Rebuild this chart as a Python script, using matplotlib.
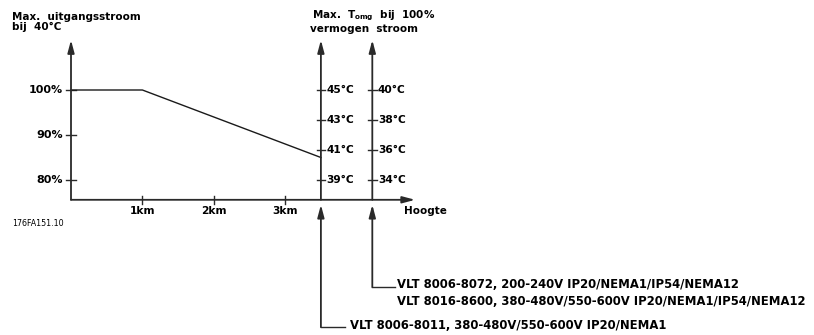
import matplotlib.pyplot as plt

# derating of output current against altitude
altitude_km = [0, 1, 3.5]
current_pct = [100, 100, 85]

km_ticks = [1, 2, 3]
km_labels = ['1km', '2km', '3km']
pct_ticks = [80, 90, 100]
pct_labels = ['80%', '90%', '100%']

# max. ambient temperature scales (positions on the altitude axis)
temp_axis_km = [3.5, 4.22]
temp_small = [39, 41, 43, 45]   # VLT 8006-8011
temp_large = [34, 36, 38, 40]   # other units

note_small = 'VLT 8006-8011, 380-480V/550-600V IP20/NEMA1'
note_large = ('VLT 8006-8072, 200-240V IP20/NEMA1/IP54/NEMA12\n'
              'VLT 8016-8600, 380-480V/550-600V IP20/NEMA1/IP54/NEMA12')

X_END = 4.82
Y_BASE = 75.6
Y_TOP = 111.1
AX_COL = '#2a2a2a'

plt.rcParams['font.family'] = 'DejaVu Sans'

fig = plt.figure(figsize=(8.14, 3.35), dpi=100)
ax = fig.add_axes([0, 0, 1, 1])
ax.set_xlim(-71 / 71.4, (814 - 71) / 71.4)
ax.set_ylim(100 - 245 / 4.5, 120)
ax.axis('off')

arrow = dict(arrowstyle='-|>,head_length=0.75,head_width=0.2', color=AX_COL,
             lw=1.3, shrinkA=0, shrinkB=0, mutation_scale=10)


def up_arrow(x, y0, y1):
    ax.annotate('', xy=(x, y1), xytext=(x, y0), arrowprops=arrow)


def pct_of_temp(t, tmax):
    return 100 - (tmax - t) * 10 / 3


# main axes
up_arrow(0, Y_BASE, Y_TOP)
ax.annotate('', xy=(X_END, Y_BASE), xytext=(0, Y_BASE), arrowprops=arrow)

for v, lab in zip(pct_ticks, pct_labels):
    ax.plot([-0.07, 0.07], [v, v], color=AX_COL, lw=1)
    ax.text(-0.11, v, lab, ha='right', va='center', fontsize=8,
            fontweight='bold')

for v, lab in zip(km_ticks, km_labels):
    ax.plot([v, v], [Y_BASE - 0.9, Y_BASE + 0.9], color=AX_COL, lw=1)
    ax.text(v, Y_BASE - 2.5, lab, ha='center', va='center', fontsize=7.7,
            fontweight='bold')

ax.text(4.66, Y_BASE - 2.5, 'Hoogte', ha='left', va='center', fontsize=7.5,
        fontweight='bold')

# derating curve
ax.plot(altitude_km, current_pct, color='#1a1a1a', lw=1)

# temperature scales
for xk, temps in zip(temp_axis_km, [temp_small, temp_large]):
    up_arrow(xk, Y_BASE, Y_TOP)
    tmax = max(temps)
    for t in temps:
        v = pct_of_temp(t, tmax)
        ax.plot([xk - 0.06, xk + 0.06], [v, v], color=AX_COL, lw=1)
        ax.text(xk + 0.08, v, f'{t}°C', ha='left', va='center',
                fontsize=7.7, fontweight='bold')

# pointers to the unit types
ax.annotate('', xy=(temp_axis_km[0], Y_BASE - 1.1),
            xytext=(temp_axis_km[0], 47.3), arrowprops=arrow)
ax.plot([temp_axis_km[0], 3.84], [47.3, 47.3], color=AX_COL, lw=1)
ax.text(3.91, 47.7, note_small, ha='left', va='center', fontsize=8.4,
        fontweight='bold')

ax.annotate('', xy=(temp_axis_km[1], Y_BASE - 1.1),
            xytext=(temp_axis_km[1], 56.2), arrowprops=arrow)
ax.plot([temp_axis_km[1], 4.54], [56.2, 56.2], color=AX_COL, lw=1)
ax.text(4.57, 54.9, note_large, ha='left', va='center', fontsize=8.4,
        fontweight='bold', linespacing=1.35)

# headers
ax.text(-0.83, 120 - 22 / 4.5, 'Max.  uitgangsstroom\nbij  40°C',
        ha='left', va='center', fontsize=7.5, fontweight='bold',
        linespacing=1.1)
ax.text(3.38, 120 - 16 / 4.5, 'Max.  T$_{\\mathregular{omg}}$  bij  100%',
        ha='left', va='center', fontsize=7.5, fontweight='bold')
ax.text(3.35, 120 - 29 / 4.5, 'vermogen  stroom', ha='left', va='center',
        fontsize=7.5, fontweight='bold')

ax.text(-0.83, Y_BASE - 5.3, '176FA151.10', ha='left', va='center',
        fontsize=5.7)

fig.savefig('out.png', dpi=100)
